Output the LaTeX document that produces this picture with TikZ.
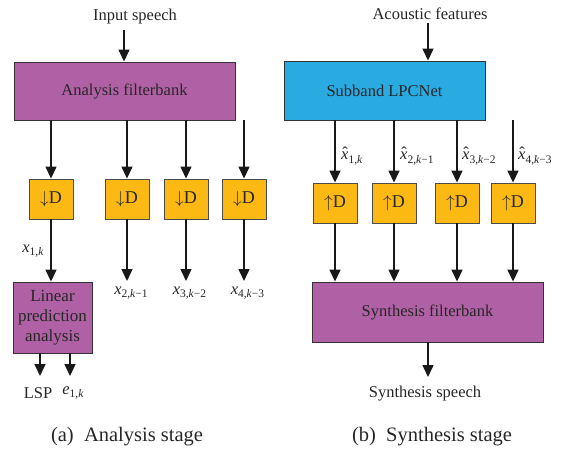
\documentclass[tikz,border=0pt]{standalone}
\usepackage{fontspec}
\setmainfont{Liberation Serif}
\usetikzlibrary{arrows.meta}
\definecolor{purp}{HTML}{B061A5}
\definecolor{lblue}{HTML}{29ABE2}
\definecolor{dorange}{HTML}{FDB913}
\newcommand{\vsub}[2]{#1\raisebox{-0.5ex}{\fontsize{11.5}{12}\selectfont #2}}
\newcommand{\hx}{\textit{x}\llap{\raisebox{0.1ex}{ˆ}\hspace{0.04em}}}
\begin{document}
\begin{tikzpicture}[x=1pt,y=-1pt,
  every node/.style={font=\fontsize{16.5}{19}\selectfont, text=black!85},
  bigbox/.style={draw=black!80, line width=0.9pt, inner sep=0pt},
  dbox/.style={draw=black!70, line width=0.9pt, fill=dorange, minimum width=44pt, minimum height=40pt, inner sep=0pt, font=\fontsize{18}{20}\selectfont},
  arr/.style={draw=black!90, line width=1.4pt, -{Triangle[length=12pt,width=11pt]}},
  lbl/.style={inner sep=1pt}]
\useasboundingbox (0,0) rectangle (577,451);
% ---------- (a) ----------
\node[lbl] (in) at (135,17) {Input speech};
\node[bigbox, fill=purp, minimum width=221pt, minimum height=58pt] (af) at (124.5,91) {Analysis filterbank};
\coordinate (inA) at (124,30);
\draw[arr] (inA) -- (af.north -| inA);
\node[dbox] (d1) at (51,199) {$\downarrow$D};
\node[dbox] (d2) at (127,199) {$\downarrow$D};
\node[dbox] (d3) at (186,199) {$\downarrow$D};
\node[dbox] (d4) at (244,199) {$\downarrow$D};
\foreach \i in {1,2,3,4}{\draw[arr] (af.south -| d\i) -- (d\i.north);}
\node[bigbox, fill=purp, minimum width=79pt, minimum height=71pt, align=center, font=\fontsize{17}{20}\selectfont] (lp) at (52.5,317.5) {Linear\\prediction\\analysis};
\draw[arr] (d1.south) -- (lp.north -| d1);
\node[lbl] at (33,251) {\vsub{\textit{x}}{1,\textit{k}}};
\coordinate (e2) at (127,281);
\coordinate (e3) at (186,281);
\coordinate (e4) at (244,281);
\draw[arr] (d2.south) -- (e2);
\draw[arr] (d3.south) -- (e3);
\draw[arr] (d4.south) -- (e4);
\node[lbl] (x2) at (131,293) {\vsub{\textit{x}}{2,\textit{k}−1}};
\node[lbl] (x3) at (189.5,293) {\vsub{\textit{x}}{3,\textit{k}−2}};
\node[lbl] (x4) at (247.5,293) {\vsub{\textit{x}}{4,\textit{k}−3}};
\coordinate (l1) at (40,376);
\coordinate (l2) at (70,376);
\draw[arr] (lp.south -| l1) -- (l1);
\draw[arr] (lp.south -| l2) -- (l2);
\node[lbl] (lsp) at (38,393) {LSP};
\node[lbl] (e1) at (73,393) {\vsub{\textit{e}}{1,\textit{k}}};
\node[lbl, font=\fontsize{20.5}{23}\selectfont] (ca) at (127,437) {(a)\ \ Analysis stage};
% ---------- (b) ----------
\node[lbl] (ac) at (430,14) {Acoustic features};
\node[bigbox, fill=lblue, minimum width=201pt, minimum height=59pt] (sl) at (384.5,90.5) {Subband LPCNet};
\coordinate (inB) at (428,23);
\draw[arr] (inB) -- (sl.north -| inB);
\node[dbox] (u1) at (335,203) {$\uparrow$D};
\node[dbox] (u2) at (394,203) {$\uparrow$D};
\node[dbox] (u3) at (457,203) {$\uparrow$D};
\node[dbox] (u4) at (513,203) {$\uparrow$D};
\foreach \i in {1,2,3,4}{\draw[arr] (sl.south -| u\i) -- (u\i.north);}
\node[bigbox, fill=purp, minimum width=231pt, minimum height=60pt] (sf) at (427.5,312) {Synthesis filterbank};
\foreach \i in {1,2,3,4}{\draw[arr] (u\i.south) -- (sf.north -| u\i);}
\node[lbl, anchor=west] (h1) at (340,156) {\vsub{\hx}{1,\textit{k}}};
\node[lbl, anchor=west] (h2) at (399,156) {\vsub{\hx}{2,\textit{k}−1}};
\node[lbl, anchor=west] (h3) at (461,156) {\vsub{\hx}{3,\textit{k}−2}};
\node[lbl, anchor=west] (h4) at (517,156) {\vsub{\hx}{4,\textit{k}−3}};
\coordinate (out) at (428,377);
\draw[arr] (sf.south -| out) -- (out);
\node[lbl] (ss) at (425,394) {Synthesis speech};
\node[lbl, font=\fontsize{20.5}{23}\selectfont] (cb) at (432,437) {(b)\ \ Synthesis stage};
\end{tikzpicture}
\end{document}
